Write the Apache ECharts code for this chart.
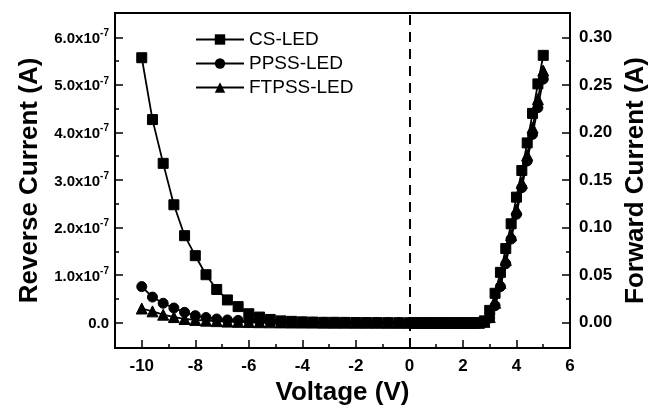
<!DOCTYPE html>
<html>
<head>
<meta charset="utf-8">
<script src="https://cdn.jsdelivr.net/npm/echarts@6/dist/echarts.min.js"></script>
<style>
html,body{margin:0;padding:0;background:#fff;}
#chart{width:657px;height:411px;}
</style>
</head>
<body>
<div id="chart"></div>
<script>
// Reverse bias (left axis, values in units of 1e-7 A)
const voltRev = [-10,-9.6,-9.2,-8.8,-8.4,-8,-7.6,-7.2,-6.8,-6.4,-6,-5.6,-5.2,-4.8,-4.4,-4,-3.6,-3.2,-2.8,-2.4,-2,-1.6,-1.2,-0.8,-0.4,0];
const csRev    = [5.57,4.27,3.35,2.48,1.83,1.41,1.01,0.70,0.48,0.34,0.19,0.12,0.07,0.04,0.03,0.02,0.015,0.01,0.01,0.008,0.006,0.005,0.004,0.003,0.002,0];
const ppssRev  = [0.76,0.54,0.41,0.31,0.22,0.15,0.11,0.08,0.06,0.05,0.04,0.03,0.025,0.02,0.015,0.012,0.01,0.008,0.006,0.005,0.004,0.003,0.002,0.001,0.001,0];
const ftpssRev = [0.30,0.24,0.17,0.12,0.08,0.06,0.045,0.035,0.025,0.02,0.015,0.012,0.01,0.008,0.006,0.005,0.004,0.003,0.002,0.002,0.001,0.001,0.001,0,0,0];

// Forward bias (right axis, A)
const voltFwd  = [0.2,0.4,0.6,0.8,1.0,1.2,1.4,1.6,1.8,2.0,2.2,2.4,2.6,2.8,3.0,3.2,3.4,3.6,3.8,4.0,4.2,4.4,4.6,4.8,5.0];
const csFwd    = [0,0,0,0,0,0,0,0,0,0,0,0,0,0.002,0.013,0.031,0.053,0.078,0.104,0.132,0.160,0.189,0.220,0.251,0.281];
const ppssFwd  = [0,0,0,0,0,0,0,0,0,0,0,0,0,0.001,0.005,0.018,0.038,0.062,0.088,0.114,0.142,0.170,0.198,0.226,0.256];
const ftpssFwd = [0,0,0,0,0,0,0,0,0,0,0,0,0,0.001,0.006,0.021,0.042,0.066,0.092,0.119,0.147,0.176,0.205,0.235,0.265];

const seriesNames = ['CS-LED','PPSS-LED','FTPSS-LED'];
const xTicks = [-10,-8,-6,-4,-2,0,2,4,6];
const xMinorTicks = [-9,-7,-5,-3,-1,1,3,5];
const leftTicks = [0,1,2,3,4,5,6];
const leftMinorTicks = [0.5,1.5,2.5,3.5,4.5,5.5];
const rightTicks = [0,0.05,0.10,0.15,0.20,0.25,0.30];
const rightMinorTicks = [0.025,0.075,0.125,0.175,0.225,0.275];

const FONT = '"Liberation Sans", Arial, sans-serif';
const zip = (xs, ys) => xs.map((x, i) => [x, ys[i]]);

const chart = echarts.init(document.getElementById('chart'), null, {renderer: 'canvas'});

const lineStyle = {color: '#000', width: 1.8};
function mk(name, sym, size, xs, ys, yIdx, extra) {
  return Object.assign({
    name: name, type: 'line', xAxisIndex: 0, yAxisIndex: yIdx,
    data: zip(xs, ys), symbol: sym, symbolSize: size, showSymbol: true,
    itemStyle: {color: '#000', borderColor: '#000'},
    lineStyle: lineStyle, animation: false, z: 3
  }, extra || {});
}

const axisLine = {show: true, onZero: false, lineStyle: {color: '#000', width: 2}};
const tickMajor = {show: true, inside: true, length: 8, lineStyle: {color: '#000', width: 1.5}};
const tickMinor = {show: true, inside: true, length: 4, lineStyle: {color: '#000', width: 1.5}};

const XMIN = -11, XMAX = 6;
const LMIN = -0.53, LMAX = 6.51;
const RMIN = LMIN * 0.05, RMAX = LMAX * 0.05;

const option = {
  backgroundColor: '#fff',
  animation: false,
  grid: {left: 115, right: 81, top: 13, bottom: 58, show: true, borderColor: '#000', borderWidth: 2},
  legend: {
    data: seriesNames, orient: 'vertical', left: 190, top: 24,
    itemWidth: 48, itemHeight: 13, itemGap: 3,
    textStyle: {fontFamily: FONT, fontSize: 19, color: '#000', lineHeight: 21}
  },
  xAxis: [
    {type: 'value', min: XMIN, max: XMAX, position: 'bottom',
     axisLine: axisLine,
     axisTick: Object.assign({}, tickMajor, {customValues: xTicks}),
     axisLabel: {customValues: xTicks, fontFamily: FONT, fontSize: 17, fontWeight: 'bold', color: '#000', margin: 10},
     splitLine: {show: false},
     name: 'Voltage (V)', nameLocation: 'middle', nameGap: 32,
     nameTextStyle: {fontFamily: FONT, fontSize: 26, fontWeight: 'bold', color: '#000'}},
    {type: 'value', min: XMIN, max: XMAX, position: 'bottom',
     axisLine: {show: false, onZero: false}, axisTick: Object.assign({}, tickMinor, {customValues: xMinorTicks}),
     axisLabel: {show: false}, splitLine: {show: false}}
  ],
  yAxis: [
    {type: 'value', min: LMIN, max: LMAX, position: 'left',
     axisLine: axisLine,
     axisTick: Object.assign({}, tickMajor, {customValues: leftTicks}),
     axisLabel: {customValues: leftTicks, margin: 6, color: '#000',
       formatter: function (v) {
         if (Math.abs(v) < 1e-9) return '{b|0.0}';
         return '{b|' + v.toFixed(1) + 'x10}{sup|-7}';
       },
       rich: {
         b: {fontFamily: FONT, fontSize: 15, fontWeight: 'bold', color: '#000', lineHeight: 18, verticalAlign: 'bottom'},
         sup: {fontFamily: FONT, fontSize: 10, fontWeight: 'bold', color: '#000', lineHeight: 12, verticalAlign: 'top'}
       }},
     splitLine: {show: false},
     name: 'Reverse Current (A)', nameLocation: 'middle', nameGap: 72, nameRotate: 90,
     nameTextStyle: {fontFamily: FONT, fontSize: 26, fontWeight: 'bold', color: '#000'}},
    {type: 'value', min: RMIN, max: RMAX, position: 'right',
     axisLine: axisLine,
     axisTick: Object.assign({}, tickMajor, {customValues: rightTicks}),
     axisLabel: {customValues: rightTicks, margin: 9, fontFamily: FONT, fontSize: 17, fontWeight: 'bold', color: '#000',
       formatter: function (v) { return v.toFixed(2); }},
     splitLine: {show: false},
     name: 'Forward Current (A)', nameLocation: 'middle', nameGap: 48, nameRotate: 90,
     nameTextStyle: {fontFamily: FONT, fontSize: 26, fontWeight: 'bold', color: '#000'}},
    {type: 'value', min: LMIN, max: LMAX, position: 'left',
     axisLine: {show: false, onZero: false}, axisTick: Object.assign({}, tickMinor, {customValues: leftMinorTicks}),
     axisLabel: {show: false}, splitLine: {show: false}},
    {type: 'value', min: RMIN, max: RMAX, position: 'right',
     axisLine: {show: false, onZero: false}, axisTick: Object.assign({}, tickMinor, {customValues: rightMinorTicks}),
     axisLabel: {show: false}, splitLine: {show: false}}
  ],
  series: [
    mk('CS-LED', 'rect', 10, voltRev, csRev, 0, {
      markLine: {silent: true, symbol: 'none', label: {show: false}, animation: false,
        lineStyle: {color: '#000', width: 2, type: [10, 7]},
        data: [{xAxis: 0}]}
    }),
    mk('PPSS-LED', 'circle', 10, voltRev, ppssRev, 0),
    mk('FTPSS-LED', 'triangle', 11, voltRev, ftpssRev, 0),
    mk('PPSS-LED', 'circle', 10, voltFwd, ppssFwd, 1),
    mk('FTPSS-LED', 'triangle', 11, voltFwd, ftpssFwd, 1),
    mk('CS-LED', 'rect', 10, voltFwd, csFwd, 1)
  ]
};
chart.setOption(option);
</script>
</body>
</html>
